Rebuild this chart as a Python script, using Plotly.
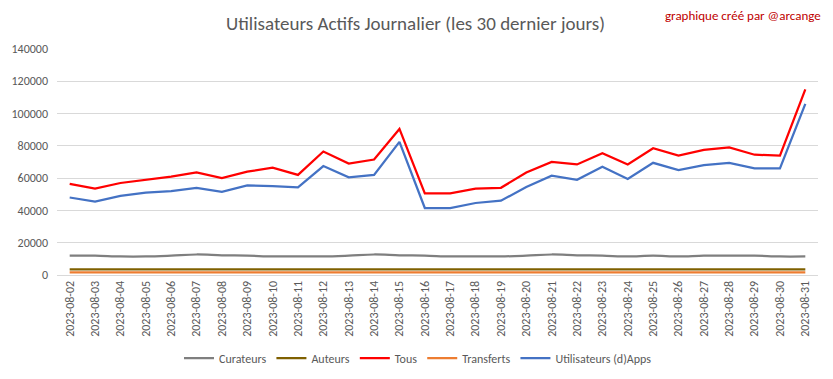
import plotly.graph_objects as go

dates = ["2023-08-%02d" % d for d in range(2, 32)]

curateurs = [12000, 12000, 11500, 11500, 12000, 12700, 12200, 12000, 11500, 11500,
             11500, 12000, 12700, 12200, 12000, 11500, 11500, 11500, 12000, 12700,
             12200, 12000, 11500, 12000, 11500, 12000, 12000, 12000, 11500, 11500]
auteurs = [3500] * 30
tous = [56500, 53500, 57000, 59000, 61000, 63500, 60000, 64000, 66500, 62000,
        76500, 69000, 71500, 90500, 50500, 50500, 53500, 54000, 63500, 70000,
        68500, 75500, 68500, 78500, 74000, 77500, 79000, 74500, 74000, 115000]
transferts = [1700] * 30
dapps = [48000, 45500, 49000, 51000, 52000, 54000, 51500, 55500, 55000, 54300,
         67500, 60500, 62000, 82500, 41500, 41500, 44600, 46000, 54500, 61500,
         59000, 67000, 59500, 69500, 65000, 68000, 69500, 66000, 66000, 106000]

series = [
    ("Curateurs", curateurs, "#7f7f7f", "spline"),
    ("Auteurs", auteurs, "#7f6000", "linear"),
    ("Tous", tous, "#ff0000", "linear"),
    ("Transferts", transferts, "#ed7d31", "linear"),
    ("Utilisateurs (d)Apps", dapps, "#4472c4", "linear"),
]

FONT = "Calibri, Carlito, 'Liberation Sans Narrow', 'Open Sans', sans-serif"

fig = go.Figure()
for name, vals, color, shape in series:
    fig.add_trace(go.Scatter(x=dates, y=vals, name=name, mode="lines",
                             line=dict(color=color, width=2.25, shape=shape)))

# the page body has an 8px margin, so the figure is sized to fit inside it
OFF = 8
W, H = 833 - 2 * OFF, 379 - 2 * OFF
L, R, T, B = 57 - OFF, W - (818 - OFF), 49 - OFF, H - (275 - OFF)
pw, ph = W - L - R, H - T - B

fig.update_layout(
    width=W, height=H,
    margin=dict(l=L, r=R, t=T, b=B, autoexpand=False),
    paper_bgcolor="white", plot_bgcolor="white",
    font=dict(family=FONT, size=12, color="#595959"),
    title=dict(text="Utilisateurs Actifs Journalier (les 30 dernier jours)",
               xref="container", x=(415.5 - OFF) / W, xanchor="center",
               yref="container", y=1 - (23 - OFF) / H, yanchor="middle",
               font=dict(size=19, color="#595959", family=FONT)),
    showlegend=True,
    legend=dict(orientation="h", x=(418 - OFF - L) / pw, xanchor="center",
                yref="container", y=1 - (358 - OFF) / H, yanchor="middle",
                font=dict(size=12, color="#595959"), itemwidth=30),
    xaxis=dict(type="category", range=[-0.5, 29.5], tickangle=-90,
               showgrid=False, showline=True, linecolor="#d9d9d9",
               automargin=False,
               ticks="", tickfont=dict(size=12, color="#595959")),
    yaxis=dict(range=[0, 140000], dtick=20000, showgrid=True,
               gridcolor="#d9d9d9", zeroline=False, showline=False,
               automargin=False, ticklabelstandoff=8,
               tickformat="d", ticks="", tickfont=dict(size=12, color="#595959")),
    annotations=[dict(text="graphique créé par @arcange", xref="paper", yref="paper",
                      x=(823 - OFF - L) / pw, y=1 + (T - (15 - OFF)) / ph, xanchor="right",
                      yanchor="middle", showarrow=False,
                      font=dict(size=13, color="#c00000", family=FONT))],
)

fig.write_html("out.html")
